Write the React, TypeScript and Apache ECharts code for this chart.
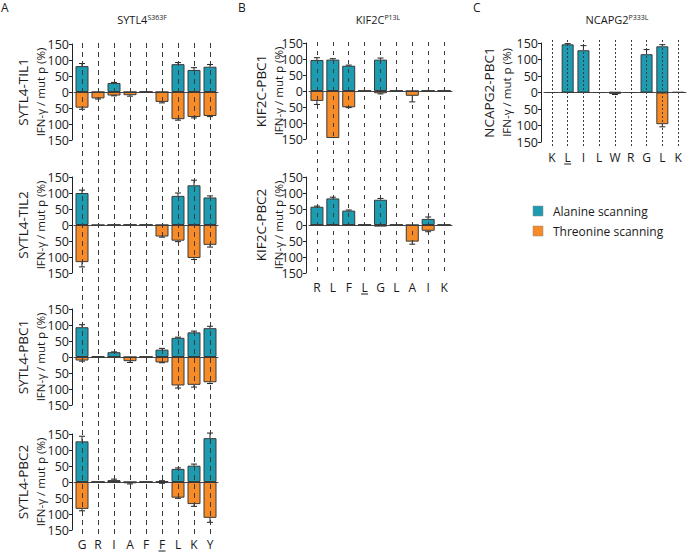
import React, { useEffect, useRef } from "react";
import * as echarts from "echarts";

// ---------- data ----------
const catsA = ["G", "R", "I", "A", "F", "F", "L", "K", "Y"];
const catsB = ["R", "L", "F", "L", "G", "L", "A", "I", "K"];
const catsC = ["K", "L", "I", "L", "W", "R", "G", "L", "K"];

const til1Ala = [81, 0, 28, 0, 0, 0, 87, 69, 79];
const til1AlaErr = [8, 0, 2, 0, 0, 0, 5, 7, 7];
const til1Thr = [49, 20, 11, 10, 0, 31, 85, 78, 75];
const til1ThrErr = [5, 2, 1, 3, 0, 3, 3, 3, 2];

const til2Ala = [100, 0, 0, 0, 0, 0, 91, 124, 86];
const til2AlaErr = [9, 0, 0, 0, 0, 0, 9, 16, 5];
const til2Thr = [116, 3, 0, 0, 0, 36, 49, 103, 62];
const til2ThrErr = [15, 0, 0, 0, 0, 2, 3, 5, 7];

const pbc1Ala = [93, 3, 15, 0, 0, 23, 60, 77, 90];
const pbc1AlaErr = [8, 0, 1, 0, 0, 4, 2, 4, 6];
const pbc1Thr = [11, 0, 0, 13, 0, 17, 89, 87, 79];
const pbc1ThrErr = [2, 0, 0, 4, 0, 1, 8, 7, 4];

const pbc2Ala = [127, 0, 6, 0, 0, 2, 41, 51, 137];
const pbc2AlaErr = [16, 0, 3, 0, 0, 2, 3, 5, 16];
const pbc2Thr = [84, 0, 0, 4, 0, 3, 49, 69, 112];
const pbc2ThrErr = [6, 0, 0, 2, 0, 1, 2, 7, 14];

const kifPbc1Ala = [97, 98, 79, 0, 98, 0, 0, 0, 1];
const kifPbc1AlaErr = [7, 3, 2, 0, 5, 0, 0, 0, 0];
const kifPbc1Thr = [31, 147, 51, 0, 7, 0, 15, 0, 0];
const kifPbc1ThrErr = [11, 0, 1, 0, 2, 0, 19, 0, 0];

const kifPbc2Ala = [57, 83, 45, 1, 79, 0, 0, 19, 0];
const kifPbc2AlaErr = [2, 4, 2, 0, 4, 0, 0, 6, 0];
const kifPbc2Thr = [0, 0, 0, 0, 5, 0, 52, 18, 0];
const kifPbc2ThrErr = [0, 0, 0, 0, 0, 0, 8, 3, 0];

const ncapAla = [0, 146, 128, 0, 1, 0, 116, 140, 1];
const ncapAlaErr = [0, 2, 14, 0, 0, 0, 14, 5, 0];
const ncapThr = [0, 0, 0, 0, 4, 0, 0, 96, 0];
const ncapThrErr = [0, 0, 0, 0, 2, 0, 0, 8, 0];

const yTicks = { min: -150, max: 150, interval: 50 };

// ---------- styles ----------
const FONT = "Open Sans";
const TEAL = "#1d9cb1";
const ORANGE = "#f68b27";
const BORDER = "#3a3a3a";
const TXT = "#1a1a1a";

type Sub = {
  top: number;
  height: number;
  name: string;
  ala: number[];
  alaErr: number[];
  thr: number[];
  thrErr: number[];
};
type Panel = {
  cats: string[];
  left: number;
  width: number;
  axisOffset: number;
  barWidth: number;
  dash: number[];
  dashTop: number;
  dashBottom: number;
  labelMargin: number;
  nameX1: number;
  nameX2: number;
  underline: number;
  subs: Sub[];
};

const panels: Panel[] = [
  {
    cats: catsA,
    left: 74,
    width: 144,
    axisOffset: 2,
    barWidth: 13,
    dash: [5, 4],
    dashTop: 43,
    dashBottom: 537,
    labelMargin: 1,
    nameX1: 23,
    nameX2: 40,
    underline: 5,
    subs: [
      { top: 44, height: 96, name: "SYTL4-TIL1", ala: til1Ala, alaErr: til1AlaErr, thr: til1Thr, thrErr: til1ThrErr },
      { top: 177, height: 96, name: "SYTL4-TIL2", ala: til2Ala, alaErr: til2AlaErr, thr: til2Thr, thrErr: til2ThrErr },
      { top: 309, height: 96, name: "SYTL4-PBC1", ala: pbc1Ala, alaErr: pbc1AlaErr, thr: pbc1Thr, thrErr: pbc1ThrErr },
      { top: 434, height: 96, name: "SYTL4-PBC2", ala: pbc2Ala, alaErr: pbc2AlaErr, thr: pbc2Thr, thrErr: pbc2ThrErr },
    ],
  },
  {
    cats: catsB,
    left: 309,
    width: 143,
    axisOffset: 3,
    barWidth: 13,
    dash: [4, 5],
    dashTop: 42,
    dashBottom: 276,
    labelMargin: 5,
    nameX1: 261,
    nameX2: 278,
    underline: 3,
    subs: [
      { top: 43, height: 96, name: "KIF2C-PBC1", ala: kifPbc1Ala, alaErr: kifPbc1AlaErr, thr: kifPbc1Thr, thrErr: kifPbc1ThrErr },
      { top: 177, height: 96, name: "KIF2C-PBC2", ala: kifPbc2Ala, alaErr: kifPbc2AlaErr, thr: kifPbc2Thr, thrErr: kifPbc2ThrErr },
    ],
  },
  {
    cats: catsC,
    left: 544,
    width: 142,
    axisOffset: 3,
    barWidth: 12,
    dash: [2, 2],
    dashTop: 40,
    dashBottom: 147,
    labelMargin: 4,
    nameX1: 489,
    nameX2: 506,
    underline: 1,
    subs: [
      { top: 43, height: 99, name: "NCAPG2-PBC1", ala: ncapAla, alaErr: ncapAlaErr, thr: ncapThr, thrErr: ncapThrErr },
    ],
  },
];

function errRender(params: any, api: any) {
  const x = api.value(0);
  const v = api.value(1);
  const e = api.value(2);
  const p0 = api.coord([x, v]);
  const p1 = api.coord([x, v + e]);
  return {
    type: "group",
    children: [
      { type: "line", shape: { x1: p0[0], y1: p0[1], x2: p1[0], y2: p1[1] }, style: { stroke: "#222", lineWidth: 1 } },
      { type: "line", shape: { x1: p1[0] - 3, y1: p1[1], x2: p1[0] + 3, y2: p1[1] }, style: { stroke: "#222", lineWidth: 1 } },
    ],
  };
}

function buildOption() {
  const grid: any[] = [];
  const xAxis: any[] = [];
  const yAxis: any[] = [];
  const series: any[] = [];
  const graphic: any[] = [];

  panels.forEach((p) => {
    p.subs.forEach((s) => {
      const gi = grid.length;
      grid.push({ left: p.left, top: s.top, width: p.width, height: s.height, containLabel: false });
      xAxis.push({
        type: "category",
        gridIndex: gi,
        data: p.cats,
        axisLine: { show: true, onZero: true, lineStyle: { color: "#4a4a4a", width: 1 } },
        axisTick: { show: false },
        axisLabel: { show: false },
        splitLine: { show: false },
      });
      yAxis.push({
        type: "value",
        gridIndex: gi,
        min: yTicks.min,
        max: yTicks.max,
        interval: yTicks.interval,
        offset: p.axisOffset,
        axisLine: { show: true, lineStyle: { color: "#222", width: 1 } },
        axisTick: { show: true, length: 3, lineStyle: { color: "#222" } },
        axisLabel: {
          formatter: (v: number) => String(Math.abs(v)),
          fontFamily: FONT,
          fontSize: 12.5,
          color: TXT,
          margin: 3,
        },
        splitLine: { show: false },
      });
      series.push({
        name: "Alanine scanning",
        type: "bar",
        xAxisIndex: gi,
        yAxisIndex: gi,
        data: s.ala,
        barWidth: p.barWidth,
        barGap: "-100%",
        itemStyle: { color: TEAL, borderColor: BORDER, borderWidth: 1 },
        z: 2,
      });
      series.push({
        name: "Threonine scanning",
        type: "bar",
        xAxisIndex: gi,
        yAxisIndex: gi,
        data: s.thr.map((v) => -v),
        barWidth: p.barWidth,
        barGap: "-100%",
        itemStyle: { color: ORANGE, borderColor: BORDER, borderWidth: 1 },
        z: 2,
      });
      const errData: number[][] = [];
      s.ala.forEach((v, i) => {
        if (s.alaErr[i] > 0) errData.push([i, v, s.alaErr[i]]);
      });
      s.thr.forEach((v, i) => {
        if (s.thrErr[i] > 0) errData.push([i, -v, -s.thrErr[i]]);
      });
      series.push({
        type: "custom",
        xAxisIndex: gi,
        yAxisIndex: gi,
        data: errData,
        renderItem: errRender,
        z: 4,
        silent: true,
      });
      const cy = s.top + s.height / 2;
      graphic.push({
        type: "text",
        x: p.nameX1,
        y: cy,
        rotation: Math.PI / 2,
        style: { text: s.name, fontFamily: FONT, fontSize: 13.5, fill: TXT, align: "center", verticalAlign: "middle" },
      });
      graphic.push({
        type: "text",
        x: p.nameX2,
        y: cy,
        rotation: Math.PI / 2,
        style: { text: "IFN-γ / mut p (%)", fontFamily: FONT, fontSize: 11.5, fill: TXT, align: "center", verticalAlign: "middle" },
      });
    });

    // overlay grid for dashed guide lines and category labels
    const band = p.width / p.cats.length;
    const gi = grid.length;
    grid.push({
      left: p.left + band / 2,
      top: p.dashTop,
      width: band * (p.cats.length - 1),
      height: p.dashBottom - p.dashTop,
    });
    xAxis.push({
      type: "category",
      gridIndex: gi,
      data: p.cats,
      boundaryGap: false,
      z: 10,
      axisLine: { show: false },
      axisTick: { show: false },
      axisLabel: { interval: 0, margin: p.labelMargin, fontFamily: FONT, fontSize: 12, lineHeight: 12, color: TXT },
      splitLine: { show: true, interval: 0, lineStyle: { type: p.dash, color: "#3c3c3c", width: 1 } },
    });
    yAxis.push({ type: "value", gridIndex: gi, show: false });

    // underline of the mutated residue label
    const ux = p.left + band / 2 + band * p.underline;
    const uy = p.dashBottom + p.labelMargin + 13;
    graphic.push({
      type: "line",
      shape: { x1: ux - 3.5, y1: uy, x2: ux + 3.5, y2: uy },
      style: { stroke: TXT, lineWidth: 1 },
    });
  });

  // panel letters
  const letters = [
    { t: "A", x: 1 },
    { t: "B", x: 238 },
    { t: "C", x: 473 },
  ];
  letters.forEach((l) =>
    graphic.push({
      type: "text",
      x: l.x,
      y: 1,
      style: { text: l.t, fontFamily: FONT, fontSize: 12, fill: TXT, align: "left", verticalAlign: "top" },
    })
  );

  // panel titles
  const titles = [
    { a: "SYTL4", s: "S363F", x: 142 },
    { a: "KIF2C", s: "P13L", x: 378 },
    { a: "NCAPG2", s: "P333L", x: 617 },
  ];
  titles.forEach((t) =>
    graphic.push({
      type: "text",
      x: t.x,
      y: 19,
      style: {
        text: `{a|${t.a}}{s|${t.s}}`,
        align: "center",
        verticalAlign: "middle",
        rich: {
          a: { fontFamily: FONT, fontSize: 11, fill: TXT, color: TXT },
          s: { fontFamily: FONT, fontSize: 7, fill: TXT, color: TXT, verticalAlign: "top" },
        },
      },
    })
  );

  // legend
  const legendItems = [
    { name: "Alanine scanning", color: TEAL, y: 206 },
    { name: "Threonine scanning", color: ORANGE, y: 226 },
  ];
  legendItems.forEach((it) => {
    graphic.push({
      type: "rect",
      shape: { x: 533, y: it.y, width: 10, height: 10 },
      style: { fill: it.color, stroke: "#888", lineWidth: 0.5 },
    });
    graphic.push({
      type: "text",
      x: 553,
      y: it.y + 5,
      style: { text: it.name, fontFamily: FONT, fontSize: 12, fill: TXT, align: "left", verticalAlign: "middle" },
    });
  });

  return {
    animation: false,
    backgroundColor: "#ffffff",
    grid,
    xAxis,
    yAxis,
    series,
    graphic,
  };
}

export default function App() {
  const ref = useRef<HTMLDivElement>(null);
  useEffect(() => {
    document.body.style.margin = "0";
    if (!ref.current) return;
    const chart = echarts.init(ref.current, undefined, { renderer: "svg" });
    chart.setOption(buildOption() as any);
    return () => chart.dispose();
  }, []);
  return <div ref={ref} style={{ position: "fixed", left: 0, top: 0, width: 689, height: 553 }} />;
}
